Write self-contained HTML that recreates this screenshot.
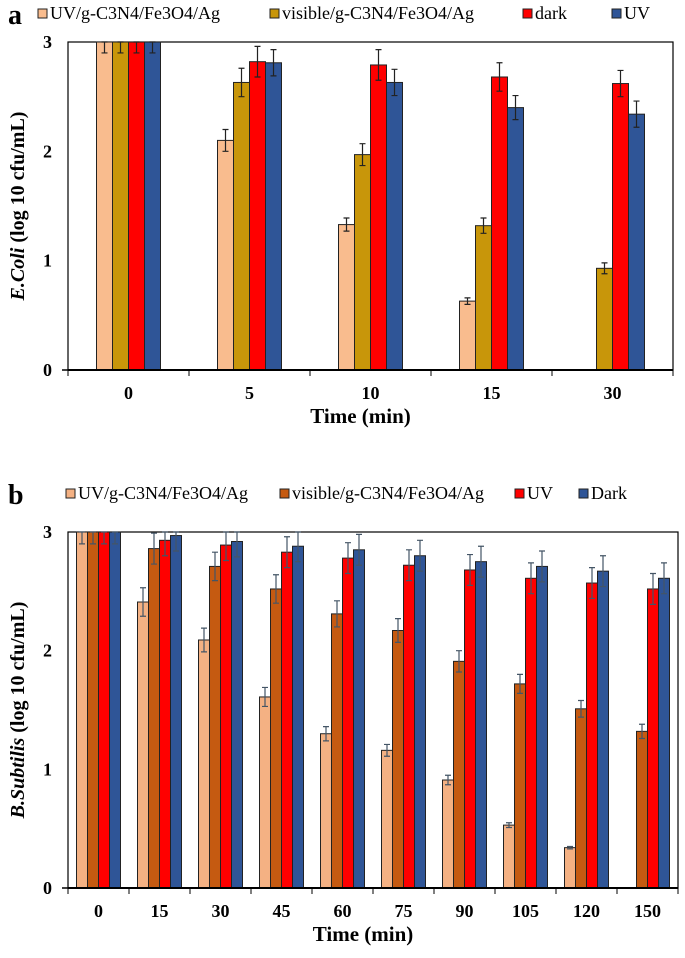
<!DOCTYPE html>
<html><head><meta charset="utf-8"><style>
body{margin:0;background:#fff;}
svg{display:block;}
svg text{font-family:"Liberation Serif",serif;}
</style></head><body>
<svg id="c" width="685" height="958"></svg>
<script>
const catsA=["0","5","10","15","30"];
const uvgA=[3,2.1,1.33,0.63,0];
const visA=[3,2.63,1.97,1.32,0.93];
const darkA=[3,2.82,2.79,2.68,2.62];
const uvA=[3,2.81,2.63,2.4,2.34];
const errUvgA=[0.1,0.1,0.06,0.03,0];
const errVisA=[0.1,0.13,0.1,0.07,0.05];
const errDarkA=[0.1,0.14,0.14,0.13,0.12];
const errUvA=[0.1,0.12,0.12,0.11,0.12];
const catsB=["0","15","30","45","60","75","90","105","120","150"];
const uvgB=[3,2.41,2.09,1.61,1.3,1.16,0.91,0.53,0.34,0];
const visB=[3,2.86,2.71,2.52,2.31,2.17,1.91,1.72,1.51,1.32];
const uvB=[3,2.93,2.89,2.83,2.78,2.72,2.68,2.61,2.57,2.52];
const darkB=[3,2.97,2.92,2.88,2.85,2.8,2.75,2.71,2.67,2.61];
const errUvgB=[0.1,0.12,0.1,0.08,0.06,0.05,0.04,0.02,0.01,0];
const errVisB=[0.1,0.13,0.12,0.12,0.11,0.1,0.09,0.08,0.07,0.06];
const errUvB=[0.1,0.13,0.13,0.13,0.13,0.13,0.13,0.13,0.13,0.13];
const errDarkB=[0.1,0.13,0.13,0.13,0.13,0.13,0.13,0.13,0.13,0.13];
const yTicks=["0","1","2","3"];
const NS="http://www.w3.org/2000/svg";
const svg=document.getElementById('c');
function mk(t,a,p){const e=document.createElementNS(NS,t);for(const k in a)e.setAttribute(k,a[k]);if(t==='text')e.setAttribute('font-family','Liberation Serif, serif');(p||svg).appendChild(e);return e;}
function panel(o){
  const g=mk('g',{});
  
  
  const x=i=>o.x0+(i+0.5)*(o.x1-o.x0)/o.cats.length;
  const y=v=>o.y0-v/3*(o.y0-o.y1);
  const fr=mk('rect',{x:o.x0,y:o.y1,width:o.x1-o.x0,height:o.y0-o.y1,fill:'none',stroke:'#000','stroke-width':1.2},g);
  
  
  o.cats.forEach((c,i)=>{
    o.series.forEach((s,j)=>{
      const v=s.vals[i];
      if(v<=0)return;
      const bx=x(i)+(j-o.series.length/2)*o.bw;
      const r=mk('rect',{x:bx,y:y(v),width:o.bw,height:y(0)-y(v),fill:s.color,stroke:'#222','stroke-width':1},g);
      
      
      const e=s.err[i],cx=bx+o.bw/2;
      const eb=mk('path',{d:`M${cx},${y(Math.min(3,v+e))}V${y(v-e)}M${cx-3},${y(Math.min(3,v+e))}H${cx+3}M${cx-3},${y(v-e)}H${cx+3}`,stroke:o.errColor,'stroke-width':1.2,fill:'none'},g);
      
      
    });
    const t=mk('text',{x:x(i),y:o.y0+29,'text-anchor':'middle','font-size':18,'font-weight':'bold'},g);t.textContent=c;
    
    
  });
  for(let i=0;i<=o.cats.length;i++){const tx=o.x0+i*(o.x1-o.x0)/o.cats.length;mk('line',{x1:tx,x2:tx,y1:o.y0,y2:o.y0+6,stroke:'#000'},g);}
  mk('line',{x1:o.x0,x2:o.x1,y1:o.y0,y2:o.y0,stroke:'#000','stroke-width':2},g);
  mk('line',{x1:o.x0-6,x2:o.x0,y1:o.y0,y2:o.y0,stroke:'#000','stroke-width':1.5},g);
  yTicks.forEach((t,i)=>{const tt=mk('text',{x:o.x0-16,y:y(+t)+6,'text-anchor':'end','font-size':18,'font-weight':'bold'},g);tt.textContent=t;
    
    });
  const xt=mk('text',{x:(o.x0+o.x1)/2-10,y:o.y0+53,'text-anchor':'middle','font-size':21,'font-weight':'bold'},g);xt.textContent='Time (min)';
  
  
  const yc=(o.y0+o.y1)/2;
  const yt=mk('text',{x:24,y:yc,transform:`rotate(-90 24 ${yc})`,'text-anchor':'middle','font-size':20,'font-weight':'bold'},g);
  yt.innerHTML=`<tspan font-style="italic">${o.org}</tspan> (log 10 cfu/mL)`;
  
  
  const pl=mk('text',{x:8,y:o.legY+10,'font-size':28,'font-weight':'bold'},g);pl.textContent=o.letter;
  
  
  o.series.forEach((s,j)=>{
    const lx=o.legX[j];
    const le=mk('g',{},g);
    
    
    mk('rect',{x:lx,y:o.legY-5,width:9,height:9,fill:s.color,stroke:'#222'},le);
    const lt=mk('text',{x:lx+12,y:o.legY+5,'font-size':18},le);lt.textContent=s.label;
  });
}
panel({name:'panel-a-ecoli',letter:'a',org:'E.Coli',cats:catsA,x0:68,x1:673,y0:370,y1:42,bw:16,errColor:'#222',legY:14,legX:[38,270,523,612],
  series:[{key:'uvg',label:'UV/g-C3N4/Fe3O4/Ag',color:'#F9BC8E',vals:uvgA,err:errUvgA},
  {key:'visible',label:'visible/g-C3N4/Fe3O4/Ag',color:'#C8960A',vals:visA,err:errVisA},
  {key:'dark',label:'dark',color:'#FF0000',vals:darkA,err:errDarkA},
  {key:'uv',label:'UV',color:'#2F5597',vals:uvA,err:errUvA}]});
panel({name:'panel-b-bsubtilis',letter:'b',org:'B.Subtilis',cats:catsB,x0:68,x1:678,y0:888,y1:532,bw:11,errColor:'#445566',legY:494,legX:[66,280,515,579],
  series:[{key:'uvg',label:'UV/g-C3N4/Fe3O4/Ag',color:'#F4B183',vals:uvgB,err:errUvgB},
  {key:'visible',label:'visible/g-C3N4/Fe3O4/Ag',color:'#C55A11',vals:visB,err:errVisB},
  {key:'uv',label:'UV',color:'#FF0000',vals:uvB,err:errUvB},
  {key:'dark',label:'Dark',color:'#2F5597',vals:darkB,err:errDarkB}]});
</script>
</body></html>
